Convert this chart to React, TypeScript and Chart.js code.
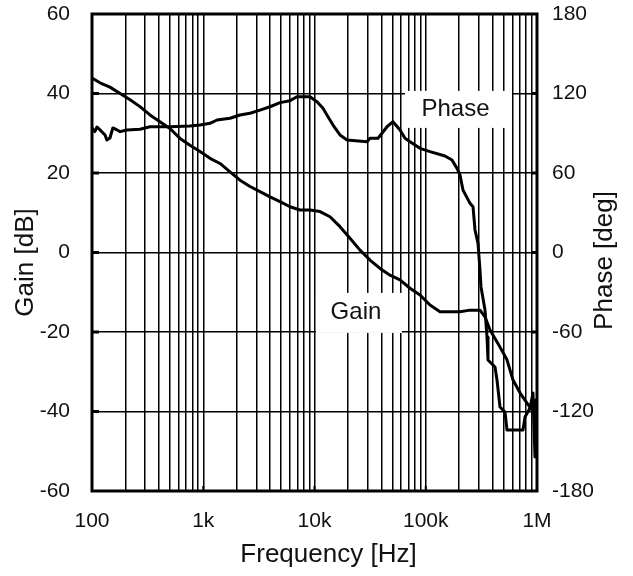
import React, { useEffect, useRef } from 'react';
import { Chart, registerables } from 'chart.js';

Chart.register(...registerables);

// ---- data ----
const GAIN_FREQ = [100, 118, 145, 179, 220, 270, 332, 408, 502, 618, 760, 935, 1150, 1415, 1740, 2140, 2632, 3237, 3981, 4897, 6023, 7407, 9112, 11205, 13782, 16950, 20850, 25645, 31544, 38800, 47720, 58700, 72200, 88800, 109200, 134300, 203200, 250000, 307300, 340900, 378000, 464900, 537500, 608500, 703600, 813200, 901600, 959400, 1000000];
const GAIN_DB = [43.9, 42.7, 41.6, 40.0, 38.4, 36.7, 34.6, 32.9, 31.2, 28.7, 27.0, 25.4, 23.7, 22.4, 20.3, 18.2, 16.6, 15.3, 14.0, 12.8, 11.5, 10.7, 10.7, 10.3, 9.0, 6.5, 3.6, 0.6, -1.9, -4.0, -5.7, -6.9, -9.0, -10.7, -13.2, -14.9, -14.9, -14.5, -14.5, -16.2, -19.5, -23.8, -27.0, -32.1, -35.3, -37.9, -39.6, -37.6, -39.1];

const PHASE_FREQ = [100, 106, 111, 118, 131, 136, 145, 154, 168, 179, 206, 270, 332, 502, 760, 935, 1150, 1329, 1740, 2140, 2632, 3237, 3981, 4897, 6023, 6962, 9112, 10530, 11920, 13220, 14670, 16950, 19600, 29640, 31544, 37230, 40440, 44850, 50780, 58700, 65100, 72200, 88800, 109200, 148900, 172200, 190900, 203200, 216100, 250000, 265900, 277200, 294900, 307300, 313800, 340900, 355300, 362700, 419300, 437000, 464900, 515600, 537500, 748500, 780100, 865000, 920400, 959400, 979500, 1000000];
const PHASE_DEG = [94.0, 91.2, 94.7, 92.5, 88.7, 84.9, 86.4, 94.0, 92.5, 91.2, 92.5, 93.0, 94.9, 94.9, 95.5, 96.2, 97.5, 100, 101.3, 103.8, 105.1, 107.5, 110, 113.1, 114.6, 117.6, 117.6, 113.8, 108.8, 102.5, 96.2, 88.7, 84.9, 83.6, 86.2, 86.2, 90, 94.9, 98.7, 92.5, 86.2, 83.6, 78.6, 76.1, 72.8, 69.8, 63.5, 58.5, 47.2, 37.1, 34.6, 17, 6.9, -13.2, -26, -43.4, -63.8, -81.1, -86.4, -96.2, -116.6, -120.4, -134, -134, -124.2, -117.4, -106, -154.3, -111.3, -134];

const X_DECADES = [100, 1000, 10000, 100000, 1000000];
const X_TICK_LABELS = ['100', '1k', '10k', '100k', '1M'];
const X_MINOR_STEPS = [1, 2, 3, 4, 5, 6, 7, 8, 9];
const GAIN_TICKS = [-60, -40, -20, 0, 20, 40, 60];
const PHASE_TICKS = [-180, -120, -60, 0, 60, 120, 180];

const CURVE_LABELS = ['Phase', 'Gain'];
const CURVE_LABEL_FREQ = [197000, 25100];
const CURVE_LABEL_GAIN = [36, -15.2];

const AXIS_TITLES = ['Frequency [Hz]', 'Gain [dB]', 'Phase [deg]'];

const FONT = 'Arial, "Liberation Sans", sans-serif';

const GRID_X: number[] = [];
X_DECADES.slice(0, -1).forEach((d) => X_MINOR_STEPS.forEach((m) => GRID_X.push(d * m)));
GRID_X.push(X_DECADES[X_DECADES.length - 1]);

const BOX_W = [107, 86];
const BOX_H = [37, 40];

const decorPlugin = {
  id: 'decor',
  beforeDatasetsDraw(chart: any) {
    const { ctx, chartArea: a, scales } = chart;
    const xs = scales.x;
    const ys = scales.y;
    ctx.save();
    // white label boxes over the grid
    ctx.fillStyle = '#fff';
    CURVE_LABELS.forEach((_, i) => {
      const cx = xs.getPixelForValue(CURVE_LABEL_FREQ[i]);
      const cy = ys.getPixelForValue(CURVE_LABEL_GAIN[i]);
      ctx.fillRect(cx - BOX_W[i] / 2, cy - BOX_H[i] / 2, BOX_W[i], BOX_H[i]);
    });
    // frame
    ctx.strokeStyle = '#000';
    ctx.lineWidth = 3;
    ctx.strokeRect(a.left, a.top, a.right - a.left, a.bottom - a.top);
    // inner tick marks
    const seg = (x1: number, y1: number, x2: number, y2: number) => {
      ctx.beginPath();
      ctx.moveTo(x1, y1);
      ctx.lineTo(x2, y2);
      ctx.stroke();
    };
    GAIN_TICKS.slice(1, -1).forEach((g) => {
      const y = ys.getPixelForValue(g);
      seg(a.left, y, a.left + 7, y);
      seg(a.right - 6, y, a.right, y);
    });
    ctx.lineWidth = 2;
    X_DECADES.slice(1, -1).forEach((f) => {
      const x = xs.getPixelForValue(f);
      seg(x, a.bottom, x, a.bottom - 5);
    });
    ctx.restore();
  },
  afterDatasetsDraw(chart: any) {
    const { ctx, chartArea: a, scales } = chart;
    const xs = scales.x;
    const ys = scales.y;
    ctx.save();
    ctx.fillStyle = '#111';
    ctx.font = `24px ${FONT}`;
    ctx.textAlign = 'center';
    ctx.textBaseline = 'alphabetic';
    CURVE_LABELS.forEach((t, i) => {
      const cx = xs.getPixelForValue(CURVE_LABEL_FREQ[i]);
      const cy = ys.getPixelForValue(CURVE_LABEL_GAIN[i]);
      ctx.fillText(t, cx - 3, cy + 6.5);
    });
    // axis titles
    ctx.font = `26px ${FONT}`;
    ctx.fillText(AXIS_TITLES[0], (a.left + a.right) / 2 + 14, a.bottom + 71);
    ctx.save();
    ctx.translate(33, (a.top + a.bottom) / 2 + 10);
    ctx.rotate(-Math.PI / 2);
    ctx.fillText(AXIS_TITLES[1], 0, 0);
    ctx.restore();
    ctx.save();
    ctx.translate(612, (a.top + a.bottom) / 2 + 8);
    ctx.rotate(-Math.PI / 2);
    ctx.fillText(AXIS_TITLES[2], 0, 0);
    ctx.restore();
    ctx.restore();
  },
};

export default function App() {
  const ref = useRef<HTMLCanvasElement | null>(null);

  useEffect(() => {
    if (!ref.current) return;
    const gainData = GAIN_FREQ.map((f, i) => ({ x: f, y: GAIN_DB[i] }));
    const phaseData = PHASE_FREQ.map((f, i) => ({ x: f, y: PHASE_DEG[i] }));
    const chart = new Chart(ref.current, {
      type: 'line',
      data: {
        datasets: [
          { label: 'Gain', data: gainData, yAxisID: 'y', borderColor: '#000', borderWidth: 3, pointRadius: 0, tension: 0 },
          { label: 'Phase', data: phaseData, yAxisID: 'y2', borderColor: '#000', borderWidth: 3, pointRadius: 0, tension: 0 },
        ],
      },
      options: {
        animation: false,
        responsive: false,
        devicePixelRatio: 1,
        layout: { padding: { top: 14, left: 0, right: 0, bottom: 0 } },
        plugins: { legend: { display: false }, tooltip: { enabled: false } },
        elements: { line: { borderJoinStyle: 'round', borderCapStyle: 'round' } },
        scales: {
          x: {
            type: 'logarithmic',
            min: X_DECADES[0],
            max: X_DECADES[X_DECADES.length - 1],
            afterBuildTicks: (s: any) => {
              s.ticks = GRID_X.map((v) => ({ value: v }));
            },
            afterFit: (s: any) => {
              s.height = 85;
              s.paddingLeft = 0;
              s.paddingRight = 0;
            },
            grid: { color: '#000', lineWidth: 1.5, drawTicks: false },
            border: { display: false },
            ticks: {
              autoSkip: false,
              maxRotation: 0,
              minRotation: 0,
              padding: 18,
              color: '#111',
              font: { family: FONT, size: 21 },
              callback: (v: any) => {
                const i = X_DECADES.indexOf(Number(v));
                return i >= 0 ? X_TICK_LABELS[i] : '';
              },
            },
          },
          y: {
            type: 'linear',
            position: 'left',
            min: GAIN_TICKS[0],
            max: GAIN_TICKS[GAIN_TICKS.length - 1],
            afterBuildTicks: (s: any) => {
              s.ticks = GAIN_TICKS.map((v) => ({ value: v }));
            },
            afterFit: (s: any) => {
              s.width = 92;
              s.paddingTop = 0;
              s.paddingBottom = 0;
            },
            grid: { color: '#000', lineWidth: 1.5, drawTicks: false },
            border: { display: false },
            ticks: { padding: 22, color: '#111', font: { family: FONT, size: 21 } },
          },
          y2: {
            type: 'linear',
            position: 'right',
            min: PHASE_TICKS[0],
            max: PHASE_TICKS[PHASE_TICKS.length - 1],
            afterBuildTicks: (s: any) => {
              s.ticks = PHASE_TICKS.map((v) => ({ value: v }));
            },
            afterFit: (s: any) => {
              s.width = 96;
              s.paddingTop = 0;
              s.paddingBottom = 0;
            },
            grid: { drawOnChartArea: false, drawTicks: false },
            border: { display: false },
            ticks: { padding: 15, color: '#111', font: { family: FONT, size: 21 } },
          },
        },
      } as any,
      plugins: [decorPlugin],
    });
    return () => chart.destroy();
  }, []);

  return (
    <div style={{ position: 'absolute', left: 0, top: 0, width: 633, height: 576, background: '#fff' }}>
      <canvas ref={ref} width={633} height={576} style={{ display: 'block' }} />
    </div>
  );
}
